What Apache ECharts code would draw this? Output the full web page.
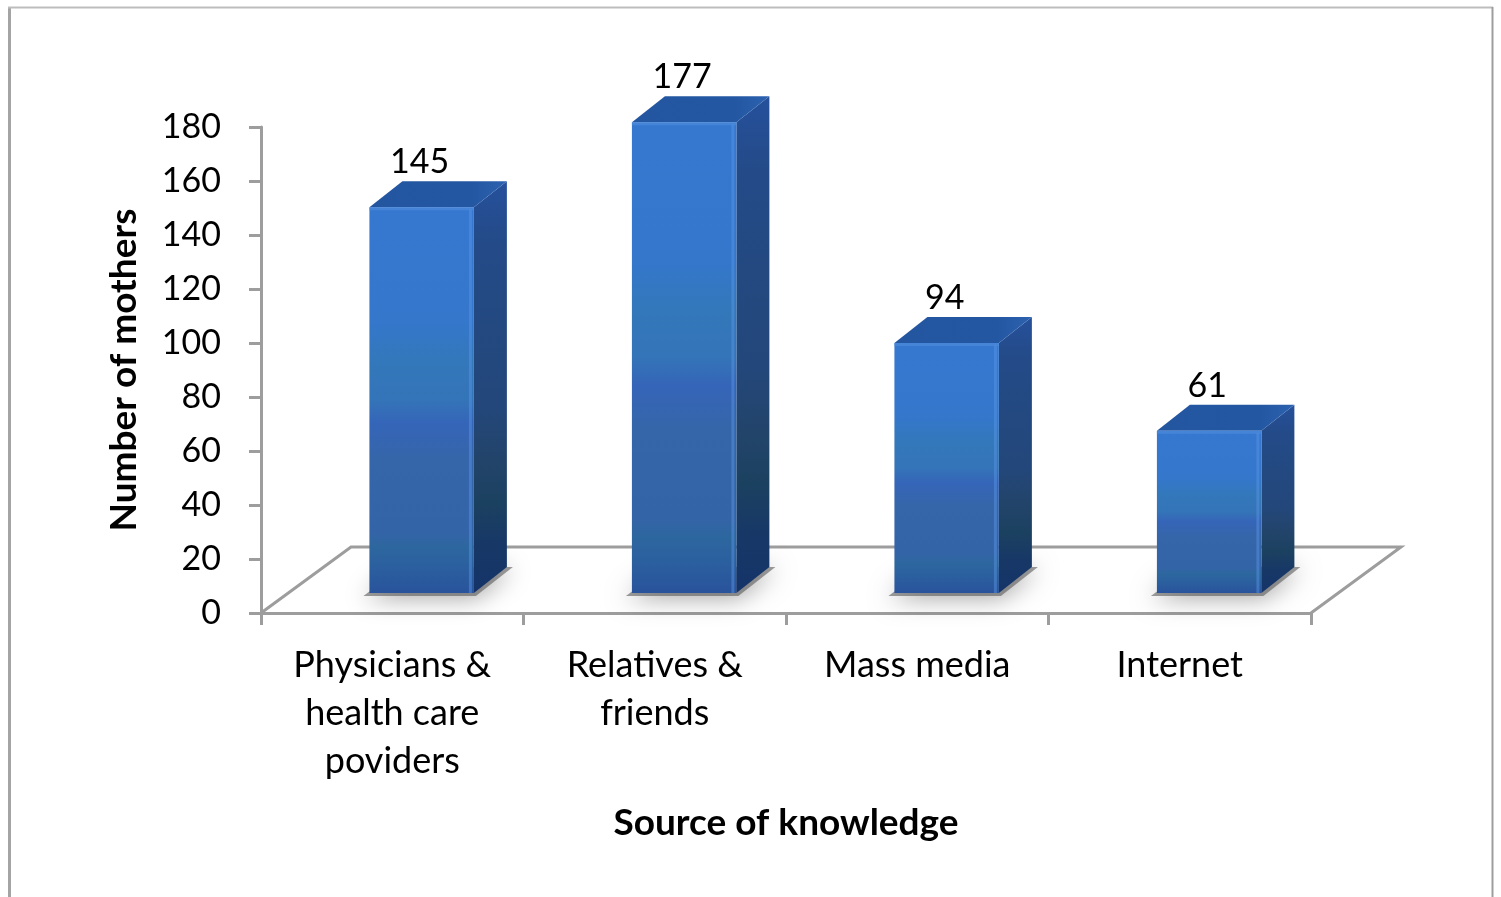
<!DOCTYPE html>
<html><head><meta charset="utf-8">
<script src="https://cdn.jsdelivr.net/npm/echarts@6/dist/echarts.min.js"></script>
<style>html,body{margin:0;padding:0;background:#fff}#c{width:1501px;height:897px}</style>
</head><body><div id="c"></div>
<script>
// ---- data ----
const categories = ['Physicians &\nhealth care\npoviders', 'Relatives &\nfriends', 'Mass media', 'Internet'];
const values = [145, 177, 94, 61];
const yMin = 0, yMax = 180, yInterval = 20;
const xTitle = 'Source of knowledge';
const yTitle = 'Number of mothers';

const FONT = 'Lato, "Open Sans", sans-serif';
const AXIS_GRAY = '#9d9d9d';
const DEPTH_FLOOR = [90, -66];

const chart = echarts.init(document.getElementById('c'), null, {renderer: 'canvas'});

function renderFloor(params, api) {
  const cs = params.coordSys;
  const bx = cs.x, by = cs.y + cs.height, w = cs.width;
  return {
    type: 'polyline',
    shape: {points: [[bx, by], [bx + DEPTH_FLOOR[0], by + DEPTH_FLOOR[1]], [bx + w + DEPTH_FLOOR[0], by + DEPTH_FLOOR[1]], [bx + w, by]]},
    style: {stroke: AXIS_GRAY, lineWidth: 3, fill: null}
  };
}

function renderBar(params, api) {
  const i = api.value(0), v = api.value(1);
  const base = api.coord([i, 0]);
  const top = api.coord([i, v]);
  const band = api.size([1, 0])[0];
  const fx = band * 0.112, fy = -20;
  const w = band * 0.398;
  const dx = 33, dy = -26;
  const x0 = base[0] + fx - w / 2, x1 = x0 + w;
  const yb = base[1] + fy;
  const yt = yb - (base[1] - top[1]) * 0.985;
  const frontGrad = new echarts.graphic.LinearGradient(0, 0, 0, 1, [
    {offset: 0, color: '#3678d0'},
    {offset: 0.3, color: '#3477cb'},
    {offset: 0.4, color: '#3378ba'},
    {offset: 0.5, color: '#3474b8'},
    {offset: 0.56, color: '#3565b8'},
    {offset: 0.65, color: '#3566aa'},
    {offset: 0.84, color: '#3464a8'},
    {offset: 0.88, color: '#2d679f'},
    {offset: 0.93, color: '#2b609f'},
    {offset: 1, color: '#29539c'}
  ]);
  const sideGrad = new echarts.graphic.LinearGradient(0, 0, 0, 1, [
    {offset: 0, color: '#25509c'},
    {offset: 0.15, color: '#244b88'},
    {offset: 0.55, color: '#23477a'},
    {offset: 0.68, color: '#22446a'},
    {offset: 0.78, color: '#1b4160'},
    {offset: 0.88, color: '#173867'},
    {offset: 1, color: '#153368'}
  ]);
  const topGrad = new echarts.graphic.LinearGradient(0, 0, 1, 0, [
    {offset: 0, color: '#2456a0'},
    {offset: 0.75, color: '#2357a2'},
    {offset: 1, color: '#2d62b0'}
  ]);
  return {
    type: 'group',
    children: [
      {
        type: 'polygon',
        shape: {points: [[x0 - 6, yb + 3], [x1 + 2, yb + 3], [x1 + dx + 6, yb + dy], [x0 + dx, yb + dy]]},
        style: {fill: 'rgba(90,90,90,0.6)', shadowBlur: 24, shadowColor: 'rgba(0,0,0,0.6)', shadowOffsetY: 2}
      },
      {
        type: 'polygon',
        shape: {points: [[x1, yb], [x1 + dx, yb + dy], [x1 + dx, yt + dy], [x1, yt]]},
        style: {fill: sideGrad}
      },
      {
        type: 'polygon',
        shape: {points: [[x0, yt], [x1, yt], [x1 + dx, yt + dy], [x0 + dx, yt + dy]]},
        style: {fill: topGrad}
      },
      {
        type: 'rect',
        shape: {x: x0, y: yt, width: w, height: yb - yt},
        style: {fill: frontGrad}
      },
      {
        type: 'rect',
        shape: {x: x1 - 5, y: yt + 2, width: 3, height: yb - yt - 2},
        style: {fill: 'rgba(90,150,230,0.45)'}
      },
      {
        type: 'rect',
        shape: {x: x0, y: yt, width: w, height: 3},
        style: {fill: 'rgba(80,140,220,0.6)'}
      },
      {
        type: 'text',
        style: {
          text: String(v), x: x0 + w / 2 - 2, y: yt + dy - 19,
          align: 'center', verticalAlign: 'middle',
          font: '34px ' + FONT, fill: '#000'
        }
      }
    ]
  };
}

const option = {
  backgroundColor: '#fff',
  animation: false,
  grid: {left: 261, right: 190, top: 127, bottom: 284, containLabel: false},
  xAxis: {
    type: 'category',
    data: categories,
    name: xTitle,
    nameLocation: 'middle',
    nameGap: 192,
    nameTextStyle: {fontFamily: FONT, fontSize: 37, fontWeight: 'bold', color: '#000'},
    axisLine: {show: true, lineStyle: {color: AXIS_GRAY, width: 3}},
    axisTick: {show: true, length: 12, lineStyle: {color: AXIS_GRAY, width: 3}},
    axisLabel: {fontFamily: FONT, fontSize: 36, lineHeight: 48, color: '#000', margin: 28, interval: 0, align: 'center'},
    splitLine: {show: false}
  },
  yAxis: {
    type: 'value',
    min: yMin, max: yMax, interval: yInterval,
    name: yTitle,
    nameLocation: 'middle',
    nameGap: 118,
    nameTextStyle: {fontFamily: FONT, fontSize: 37, fontWeight: 'bold', color: '#000'},
    axisLine: {show: true, lineStyle: {color: AXIS_GRAY, width: 3}},
    axisTick: {show: true, length: 12, lineStyle: {color: AXIS_GRAY, width: 3}},
    axisLabel: {fontFamily: FONT, fontSize: 34, color: '#000', margin: 40},
    splitLine: {show: false}
  },
  graphic: [
    {type: 'line', shape: {x1: 9.5, y1: 7, x2: 9.5, y2: 897}, style: {stroke: '#a4a4a4', lineWidth: 3}},
    {type: 'line', shape: {x1: 8, y1: 7.5, x2: 1493, y2: 7.5}, style: {stroke: '#bdbdbd', lineWidth: 2}},
    {type: 'line', shape: {x1: 1492.5, y1: 7, x2: 1492.5, y2: 897}, style: {stroke: '#9e9e9e', lineWidth: 2}}
  ],
  series: [
    {type: 'custom', renderItem: renderFloor, data: [[0, 0]], z: 1, silent: true},
    {type: 'custom', renderItem: renderBar, data: values.map((v, i) => [i, v]), encode: {x: 0, y: 1}, z: 3, clip: false}
  ]
};
chart.setOption(option);
</script>
</body></html>
